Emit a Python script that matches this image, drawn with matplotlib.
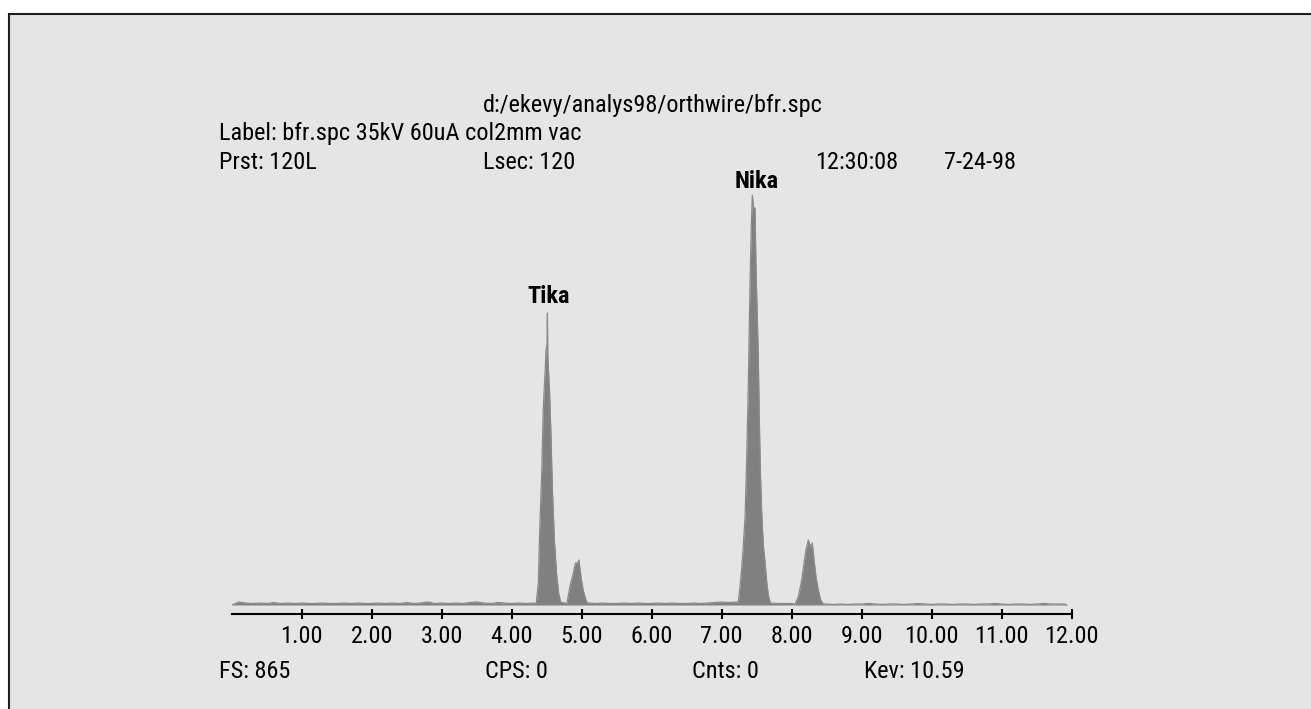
"""
EDS spectrum bfr.spc (Ti / Ni peaks), redrawn from the instrument screen.
"""

import numpy as np
import matplotlib
matplotlib.use("Agg")
import matplotlib.pyplot as plt
from matplotlib.patches import Rectangle

plt.rcParams['font.family'] = ['Liberation Sans Narrow', 'Roboto Condensed',
                               'DejaVu Sans Condensed', 'Liberation Sans']
plt.rcParams['font.size'] = 17.5

W, H = 1311, 709

# background counts, 0.1 keV apart
bg_low_kev = [round(0.1 * i, 1) for i in range(0, 44)]
bg_low_cnt = [0, 6, 4, 3, 4, 3, 5, 3, 4, 3, 4, 3, 3, 4, 3, 3, 4, 3, 4, 3, 3, 4,
              3, 4, 3, 5, 3, 4, 6, 3, 4, 3, 4, 3, 5, 6, 4, 3, 5, 4, 3, 4, 3, 4]
bg_mid_kev = [round(5.1 + 0.1 * i, 1) for i in range(0, 22)]
bg_mid_cnt = [4, 3, 4, 3, 3, 4, 3, 4, 3, 3, 4, 3, 4, 3, 3, 4, 3, 4, 5, 6, 5, 6]
bg_gap_kev = [7.7, 7.8, 7.9, 8.0]
bg_gap_cnt = [4, 3, 3, 3]
bg_high_kev = [round(8.5 + 0.1 * i, 1) for i in range(0, 35)] + [11.93]
bg_high_cnt = [2, 1, 2, 1, 2, 2, 3, 2, 1, 2, 2, 1, 2, 3, 2, 1, 2, 2, 1, 2,
               2, 1, 2, 2, 3, 2, 1, 2, 2, 1, 2, 3, 2, 2, 2, 0]

# peaks
ti_ka_kev = [4.35, 4.38, 4.40, 4.43, 4.45, 4.48, 4.49, 4.505, 4.51, 4.515, 4.52, 4.54,
             4.56, 4.58, 4.61, 4.64, 4.67, 4.70]
ti_ka_cnt = [3, 44, 150, 270, 390, 476, 510, 520, 584, 500, 484, 430,
             344, 236, 130, 64, 24, 6]
ti_kb_kev = [4.75, 4.79, 4.83, 4.88, 4.91, 4.94, 4.96, 4.99, 5.02, 5.06, 5.08]
ti_kb_cnt = [4, 4, 36, 64, 84, 84, 90, 56, 30, 10, 4]
ni_ka_kev = [7.237, 7.26, 7.286, 7.309, 7.333, 7.347, 7.361, 7.38, 7.394, 7.409,
             7.423, 7.437, 7.457, 7.476, 7.49, 7.509, 7.523, 7.537, 7.551, 7.571,
             7.594, 7.619, 7.643, 7.666, 7.69]
ni_ka_cnt = [6, 34, 74, 120, 174, 240, 320, 440, 560, 674,
             760, 820, 794, 794, 674, 574, 494, 374, 274, 186,
             120, 86, 46, 20, 6]
ni_kb_kev = [8.047, 8.094, 8.143, 8.176, 8.204, 8.237, 8.271, 8.294, 8.319,
             8.347, 8.38, 8.414, 8.451]
ni_kb_cnt = [2, 16, 50, 84, 110, 130, 116, 124, 90, 56, 30, 10, 2]

tick_vals = [1, 2, 3, 4, 5, 6, 7, 8, 9, 10, 11, 12]
tick_labels = ["%.2f" % t for t in tick_vals]

kev = np.array(bg_low_kev + ti_ka_kev + ti_kb_kev + bg_mid_kev + ni_ka_kev
               + bg_gap_kev + ni_kb_kev + bg_high_kev)
cnt = np.array(bg_low_cnt + ti_ka_cnt + ti_kb_cnt + bg_mid_cnt + ni_ka_cnt
               + bg_gap_cnt + ni_kb_cnt + bg_high_cnt)
order = np.argsort(kev)
kev, cnt = kev[order], cnt[order]


def px(x, y):
    return x / W, 1 - y / H


fig = plt.figure(figsize=(W / 100, H / 100), dpi=100)
fig.patch.set_facecolor("white")
fig.patches.append(Rectangle(px(9, 14), 2, -1, transform=fig.transFigure,
                             facecolor="#e5e5e5", edgecolor="#1e1e1e",
                             linewidth=1.5, zorder=-5))

ax_left, ax_right, ax_bottom, ax_top = 231.7, 1071.7, 614, 150
ax = fig.add_axes([ax_left / W, 1 - ax_bottom / H,
                   (ax_right - ax_left) / W, (ax_bottom - ax_top) / H])
ax.set_zorder(2)
ax.patch.set_visible(False)
ax.set_xlim(0, 12)
ax.set_ylim(-18, 2 * (605 - ax_top))
for side in ['top', 'right', 'left']:
    ax.spines[side].set_visible(False)
ax.spines['bottom'].set_linewidth(1.5)
ax.spines['bottom'].set_color("black")
ax.set_yticks([])
ax.set_xticks(tick_vals, tick_labels)
ax.tick_params(axis='x', direction='inout', length=7.2, width=1.5,
               pad=4, colors="black", labelsize=17.5)

ax.fill_between(kev, cnt, 0, color="#808080", linewidth=0)
ax.plot(kev, cnt, color="#8a8a8a", linewidth=0.9)

ax.annotate("Tika", xy=(4.526, 584), xytext=(0, 7), textcoords='offset points',
            ha='center', va='baseline', fontweight='bold', fontsize=17.5)
ax.annotate("Nika", xy=(7.50, 820), xytext=(0, 5), textcoords='offset points',
            ha='center', va='baseline', fontweight='bold', fontsize=17.5)

header = [
    (483, 112, "d:/ekevy/analys98/orthwire/bfr.spc"),
    (219, 140, "Label: bfr.spc 35kV 60uA col2mm vac"),
    (219, 169, "Prst: 120L"),
    (483, 169, "Lsec: 120"),
    (815, 169, "12:30:08"),
    (944, 169, "7-24-98"),
    (219, 678, "FS: 865"),
    (485, 678, "CPS: 0"),
    (692, 678, "Cnts: 0"),
    (864, 678, "Kev: 10.59"),
]
for x, y, s in header:
    fig.text(*px(x, y), s, ha='left', va='baseline', fontsize=17.5)

plt.savefig("out.png", dpi=100)
